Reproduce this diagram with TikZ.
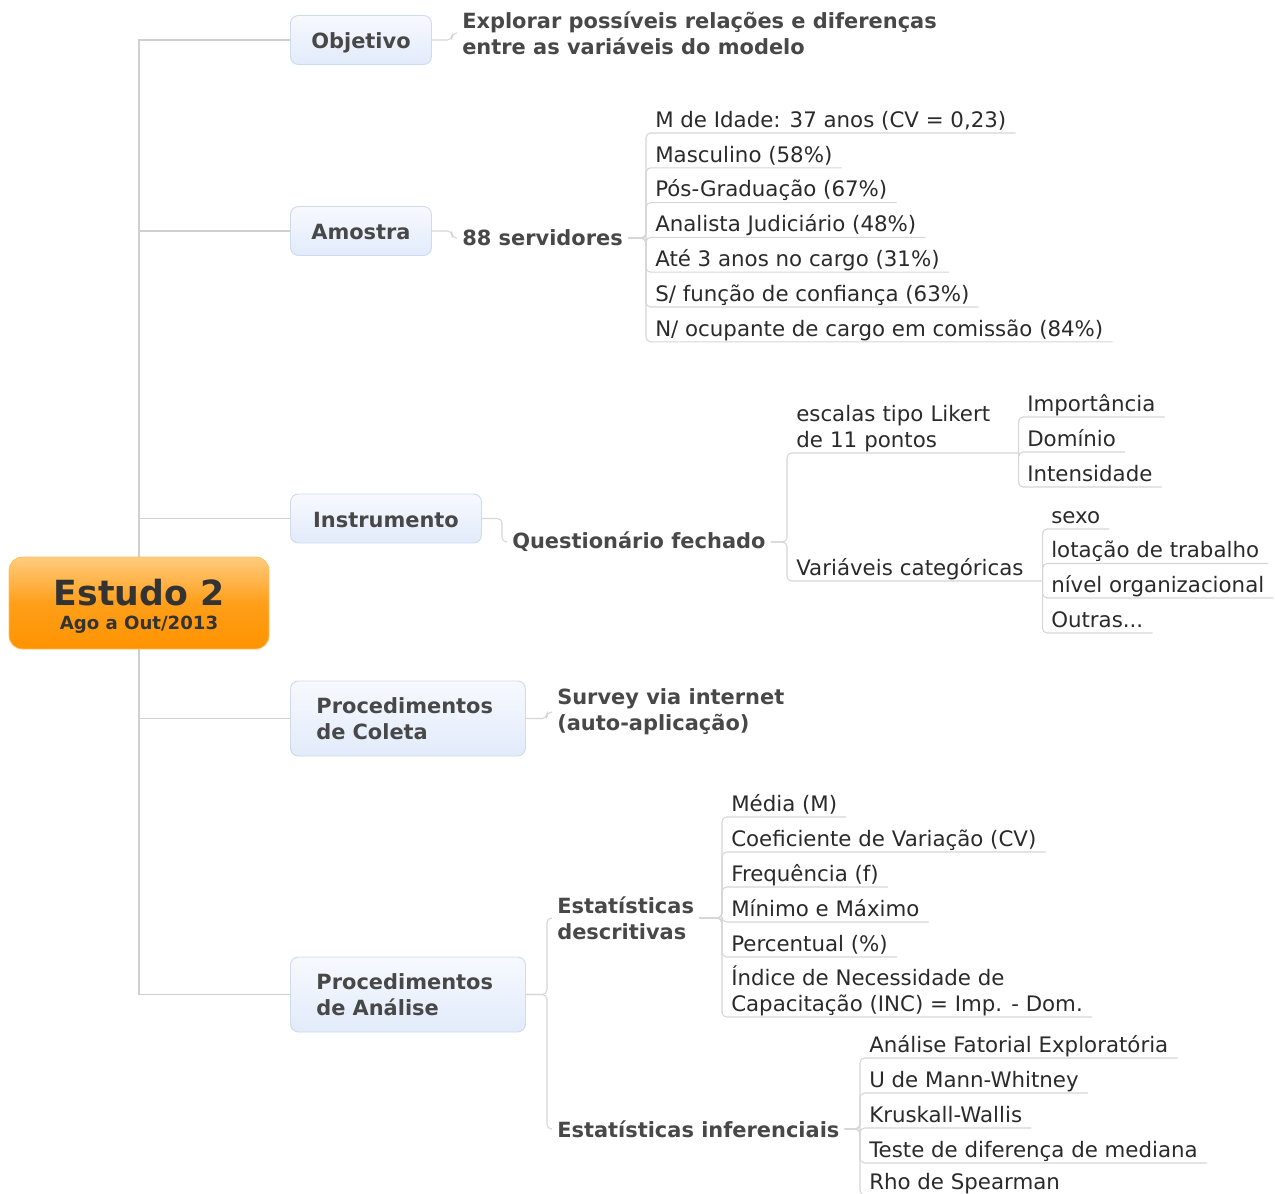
\documentclass[tikz,border=0pt]{standalone}
\usepackage{fontspec}
\setmainfont{DejaVu Sans}
\usetikzlibrary{calc,backgrounds}
\definecolor{connc}{HTML}{D6D6D6}
\definecolor{mainline}{HTML}{D0D0D0}
\definecolor{boxtop}{HTML}{F7F9FE}
\definecolor{boxbot}{HTML}{E2EBFB}
\definecolor{boxline}{HTML}{CFDAEE}
\definecolor{boldc}{HTML}{484848}
\definecolor{normc}{HTML}{2A2A2A}
\definecolor{roottop}{HTML}{FFCC7E}
\definecolor{rootmid}{HTML}{FF9F1A}
\definecolor{rootbot}{HTML}{FF9300}
\definecolor{rootline}{HTML}{FFC060}
\definecolor{roottext}{HTML}{333333}
\newcommand\mmfs{\fontsize{15.7pt}{19.5pt}\selectfont}
\newcommand\mmlf{\fontsize{16pt}{19.5pt}\selectfont}
\newcommand\lstr{\rule[-4.1pt]{0pt}{1pt}}
\tikzset{
 mainconn/.style={draw=mainline, line width=1.3pt},
 conn/.style={draw=connc, line width=0.8pt, rounded corners=3.5pt},
 topicbox/.style={draw=boxline, line width=0.7pt, rounded corners=6pt, top color=boxtop, bottom color=boxbot, font=\bfseries\mmfs, text=boldc, align=left, inner sep=0pt, anchor=west},
 onebox/.style={topicbox, text height=14pt, text depth=0.5pt},
 twobox/.style={topicbox, inner xsep=19.5pt, text width=137.25pt, minimum height=56.25pt},
 rootbox/.style={draw=rootline, line width=0.6pt, rounded corners=10pt, top color=roottop, bottom color=rootbot, middle color=rootmid, minimum width=195pt, minimum height=69pt},
 boldtopic/.style={font=\bfseries\mmfs, text=boldc, align=left, anchor=west, inner xsep=3.75pt, inner ysep=2pt},
 leaf/.style={font=\mmlf, text=normc, align=left, anchor=south west, inner xsep=6.75pt, inner ysep=0pt},
}
\begin{document}
\begin{tikzpicture}[x=0.75pt,y=-0.75pt]
\useasboundingbox (0,0) rectangle (1275,1194);
% root
\node[rootbox] (root) at (139,603) {};
\node[font=\bfseries\fontsize{26pt}{28pt}\selectfont, text=roottext, inner sep=0pt] (roott) at (139,592.5) {Estudo 2};
\node[font=\bfseries\fontsize{13.6pt}{15pt}\selectfont, text=roottext, inner sep=0pt] (roots) at (139,625) {Ago a Out/2013};
% main topics
\node[onebox, minimum width=105.75pt, minimum height=36.75pt] (obj) at (290,40) {Objetivo};
\node[onebox, minimum width=105.75pt, minimum height=36.75pt] (amo) at (290,231) {Amostra};
\node[onebox, minimum width=143.25pt, minimum height=36.75pt] (ins) at (290,518.5) {Instrumento};
\node[twobox] (col) at (290,718.5) {Procedimentos\\de Coleta};
\node[twobox] (ana) at (290,994.5) {Procedimentos\\de Análise};
% second level
\node[boldtopic] (objt) at (457,33) {Explorar possíveis relações e diferenças\\entre as variáveis do modelo};
\node[boldtopic] (s88) at (457,238) {88 servidores};
\node[boldtopic] (qf) at (507,542) {Questionário fechado};
\node[boldtopic] (svy) at (552,712) {Survey via internet\\(auto-aplicação)};
\node[boldtopic] (edes) at (552,918) {Estatísticas\\descritivas};
\node[boldtopic] (einf) at (552,1129) {Estatísticas inferenciais};
% Amostra leaves
\node[leaf] (a1) at (646,133) {M de Idade: 37 anos (CV = 0,23)\lstr};
\node[leaf] (a2) at (646,167.8) {Masculino (58\%)\lstr};
\node[leaf] (a3) at (646,202.6) {Pós-Graduação (67\%)\lstr};
\node[leaf] (a4) at (646,237.4) {Analista Judiciário (48\%)\lstr};
\node[leaf] (a5) at (646,272.2) {Até 3 anos no cargo (31\%)\lstr};
\node[leaf] (a6) at (646,307) {S/ função de confiança (63\%)\lstr};
\node[leaf] (a7) at (646,341.8) {N/ ocupante de cargo em comissão (84\%)\lstr};
% Instrumento leaves
\node[leaf, text width=159.75pt] (esc) at (787,453) {escalas tipo Likert\\de 11 pontos\lstr};
\node[leaf, text width=177.75pt] (var) at (787,581) {Variáveis categóricas\lstr};
\node[leaf] (e1) at (1018,417) {Importância\lstr};
\node[leaf] (e2) at (1018,452) {Domínio\lstr};
\node[leaf] (e3) at (1018,487) {Intensidade\lstr};
\node[leaf] (v1) at (1042,529) {sexo\lstr};
\node[leaf] (v2) at (1042,563.5) {lotação de trabalho\lstr};
\node[leaf] (v3) at (1042,598) {nível organizacional\lstr};
\node[leaf] (v4) at (1042,633) {Outras...\lstr};
% descritivas leaves
\node[leaf] (d1) at (722,817) {Média (M)\lstr};
\node[leaf] (d2) at (722,852) {Coeficiente de Variação (CV)\lstr};
\node[leaf] (d3) at (722,887) {Frequência (f)\lstr};
\node[leaf] (d4) at (722,922) {Mínimo e Máximo\lstr};
\node[leaf] (d5) at (722,957) {Percentual (\%)\lstr};
\node[leaf] (d6) at (722,1017) {Índice de Necessidade de\\Capacitação (INC) = Imp. - Dom.\lstr};
% inferenciais leaves
\node[leaf] (i1) at (860,1058) {Análise Fatorial Exploratória\lstr};
\node[leaf] (i2) at (860,1093) {U de Mann-Whitney\lstr};
\node[leaf] (i3) at (860,1128) {Kruskall-Wallis\lstr};
\node[leaf] (i4) at (860,1163) {Teste de diferença de mediana\lstr};
\node[leaf] (i5) at (860,1195) {Rho de Spearman\lstr};
\begin{scope}[on background layer]
\draw[mainconn] (root.center) |- (obj.west);
\draw[mainconn] (root.center) |- (amo.west);
\draw[mainconn] (root.center) |- (ins.west);
\draw[mainconn] (root.center) |- (col.west);
\draw[mainconn] (root.center) |- (ana.west);
% box to bold topics
\draw[conn] (obj.east) -- ($(obj.east -| objt.west)+(-5,0)$) |- (objt.west);
\draw[conn] (amo.east) -- ($(amo.east -| s88.west)+(-5,0)$) |- (s88.west);
\draw[conn] (ins.east) -- ($(ins.east -| qf.west)+(-5,0)$) |- (qf.west);
\draw[conn] (col.east) -- ($(col.east -| svy.west)+(-5,0)$) |- (svy.west);
\draw[conn] (ana.east) -- ($(ana.east -| edes.west)+(-5,0)$) |- (edes.west);
\draw[conn] (ana.east) -- ($(ana.east -| einf.west)+(-5,0)$) |- (einf.west);
% to leaves
\foreach \c in {a1,a2,a3,a4,a5,a6,a7}
  \draw[conn] (s88.east) -- (s88.east -| \c.south west) |- (\c.south east);
\foreach \c in {esc,var}
  \draw[conn] (qf.east) -- (qf.east -| \c.south west) |- (\c.south east);
\foreach \c in {e1,e2,e3}
  \draw[conn] (esc.south east) |- (\c.south east);
\foreach \c in {v1,v2,v3,v4}
  \draw[conn] (var.south east) |- (\c.south east);
\foreach \c in {d1,d2,d3,d4,d5,d6}
  \draw[conn] (edes.east) -- (edes.east -| \c.south west) |- (\c.south east);
\foreach \c in {i1,i2,i3,i4,i5}
  \draw[conn] (einf.east) -- (einf.east -| \c.south west) |- (\c.south east);
\end{scope}
\end{tikzpicture}
\end{document}
